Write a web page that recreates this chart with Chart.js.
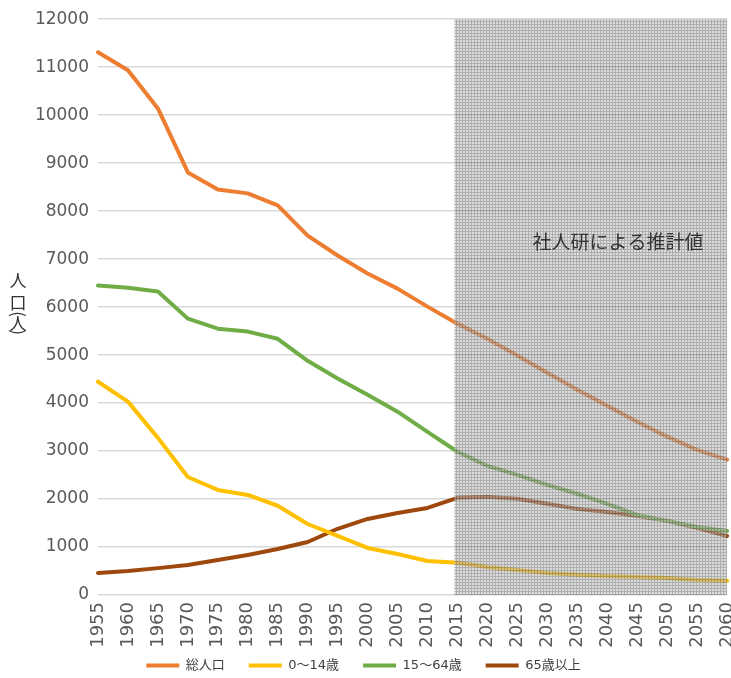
<!DOCTYPE html>
<html lang="ja">
<head>
<meta charset="utf-8">
<script src="https://cdn.jsdelivr.net/npm/chart.js@4.4.1/dist/chart.umd.min.js"></script>
<style>
  html, body { margin: 0; padding: 0; background: #fff; }
</style>
</head>
<body>
<canvas id="chart" width="731" height="678"></canvas>
<script>
// 年次
const years = ['1955','1960','1965','1970','1975','1980','1985','1990','1995','2000','2005',
               '2010','2015','2020','2025','2030','2035','2040','2045','2050','2055','2060'];

// 人口 (人)
const total   = [11310,10935,10140,8806,8450,8370,8120,7490,7075,6700,6385,
                 6010,5655,5340,4990,4630,4280,3945,3610,3300,3025,2820];
const age0_14 = [4445,4030,3275,2460,2190,2085,1860,1480,1230,980,855,
                 710,670,585,520,460,420,395,375,355,315,295];
const age15_64 = [6450,6405,6325,5760,5550,5490,5340,4880,4510,4175,3820,
                  3400,2985,2690,2505,2295,2110,1900,1670,1545,1420,1335];
const age65 = [460,500,560,625,730,835,960,1105,1380,1585,1710,
               1815,2025,2045,2005,1900,1795,1730,1650,1545,1400,1230];

const seriesNames = ['総人口', '0～14歳', '15～64歳', '65歳以上'];
const seriesColors = ['#ED7D31', '#FFC000', '#70AD47', '#9E480E'];

const projectionStart = '2015';
const projectionLabel = '社人研による推計値';
const yTitle = ['人', '口', '(', '人', ')'];

const jpFont = '"Noto Sans CJK JP", "Noto Sans", sans-serif';
const numFont = '"DejaVu Sans", sans-serif';

function hatch() {
  const c = document.createElement('canvas');
  c.width = 3; c.height = 3;
  const g = c.getContext('2d');
  g.fillStyle = 'rgba(197,197,197,0.6)';
  g.fillRect(1, 1, 2, 2);
  g.fillStyle = 'rgba(120,120,120,0.6)';
  g.fillRect(0, 0, 3, 1);
  g.fillRect(0, 1, 1, 2);
  return c;
}

// shaded projection area + its note
const shadePlugin = {
  id: 'shade',
  afterDatasetsDraw(chart) {
    const {ctx, chartArea, scales} = chart;
    const x0 = scales.x.getPixelForValue(years.indexOf(projectionStart)) - 3;
    ctx.save();
    ctx.fillStyle = ctx.createPattern(hatch(), 'repeat');
    ctx.fillRect(x0, chartArea.top, chartArea.right - x0, chartArea.bottom - chartArea.top);
    ctx.fillStyle = '#333';
    ctx.font = '19px ' + jpFont;
    ctx.textAlign = 'center';
    ctx.textBaseline = 'middle';
    ctx.fillText(projectionLabel, scales.x.getPixelForValue(17.36), scales.y.getPixelForValue(7370));
    ctx.restore();
  }
};

// vertical y-axis title, one character per line
const yTitlePlugin = {
  id: 'ytitle',
  afterDraw(chart) {
    const {ctx} = chart;
    const pos = [281, 303, 314, 324, 332];
    ctx.save();
    ctx.fillStyle = '#333';
    ctx.font = '17px ' + jpFont;
    ctx.textAlign = 'center';
    ctx.textBaseline = 'middle';
    yTitle.forEach((ch, i) => {
      if (ch === '(' || ch === ')') {
        ctx.save();
        ctx.translate(18, pos[i]);
        ctx.rotate(Math.PI / 2);
        ctx.fillText(ch, 0, 0);
        ctx.restore();
      } else {
        ctx.fillText(ch, 18, pos[i]);
      }
    });
    ctx.restore();
  }
};

const seriesData = [total, age0_14, age15_64, age65];

new Chart(document.getElementById('chart'), {
  type: 'line',
  data: {
    labels: years,
    datasets: seriesData.map((d, i) => ({
      label: seriesNames[i],
      data: d,
      borderColor: seriesColors[i],
      backgroundColor: seriesColors[i],
      borderWidth: 4,
      pointRadius: 0,
      tension: 0,
      borderJoinStyle: 'round',
      borderCapStyle: 'round'
    }))
  },
  options: {
    responsive: false,
    animation: false,
    layout: { autoPadding: false, padding: { top: 19, right: 4, left: 0, bottom: -4 } },
    scales: {
      x: {
        grid: { display: false, drawTicks: false },
        border: { display: false },
        ticks: {
          minRotation: 90, maxRotation: 90, autoSkip: false, padding: 7,
          color: '#595959', font: { family: numFont, size: 18 }
        },
        afterFit(scale) {
          scale.height = 40;
          scale.paddingLeft = 0;
          scale.paddingRight = 0;
          // labels hang below the axis box, so don't clip them to it
          scale._computeLabelArea = () => undefined;
        }
      },
      y: {
        min: 0, max: 12000,
        grid: { color: '#d9d9d9', lineWidth: 1.5, drawTicks: false },
        border: { display: false },
        ticks: {
          stepSize: 1000, padding: 9,
          color: '#595959', font: { family: numFont, size: 17 },
          callback: v => String(v)
        },
        afterFit(scale) { scale.width = 98; }
      }
    },
    plugins: {
      tooltip: { enabled: false },
      legend: {
        position: 'bottom',
        labels: {
          boxWidth: 33, boxHeight: 4, padding: 24,
          color: '#404040',
          font: { family: '"DejaVu Sans", "Noto Sans CJK JP", sans-serif', size: 13 },
          generateLabels(chart) {
            return Chart.defaults.plugins.legend.labels.generateLabels(chart)
              .map(l => Object.assign(l, { lineWidth: 0 }));
          }
        }
      }
    }
  },
  plugins: [shadePlugin, yTitlePlugin]
});
</script>
</body>
</html>
